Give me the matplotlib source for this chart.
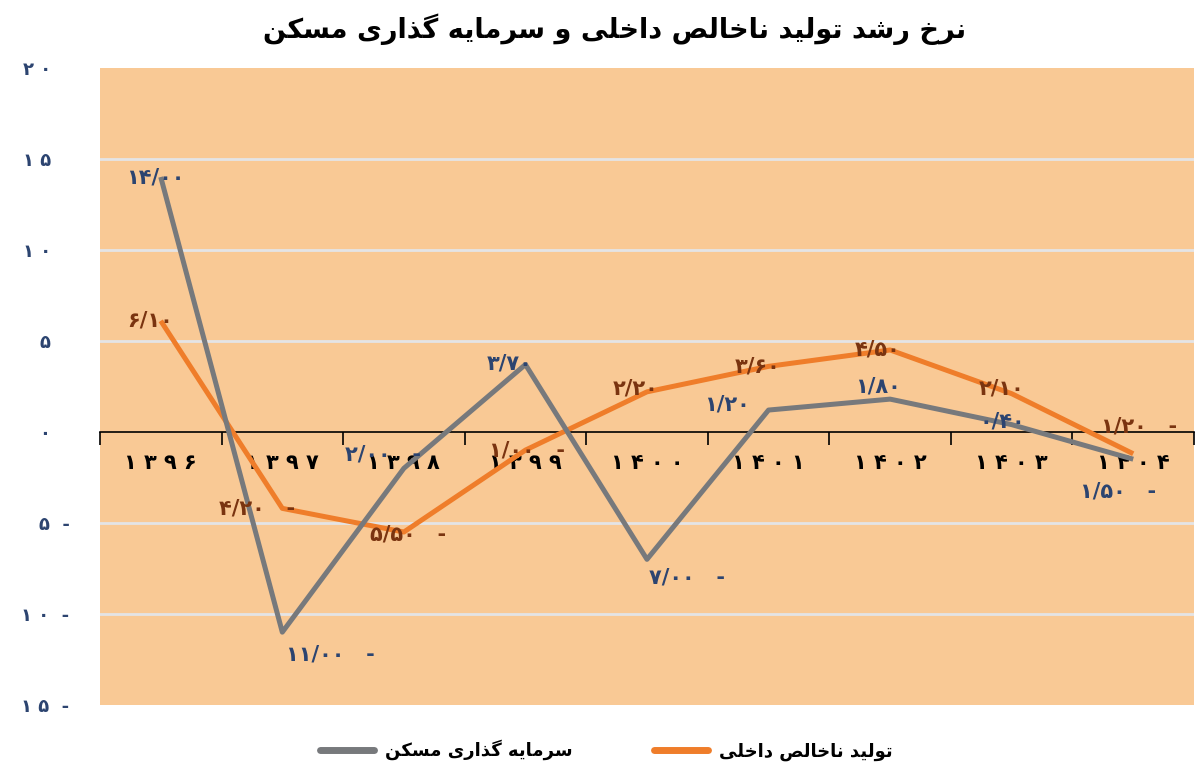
import matplotlib
matplotlib.use("Agg")
import matplotlib.pyplot as plt
from matplotlib.ticker import FixedLocator

# data
years = ["۱۳۹۶", "۱۳۹۷", "۱۳۹۸", "۱۳۹۹", "۱۴۰۰", "۱۴۰۱", "۱۴۰۲", "۱۴۰۳", "۱۴۰۴"]
housing = [14.00, -11.00, -2.00, 3.70, -7.00, 1.20, 1.80, 0.40, -1.50]
gdp = [6.10, -4.20, -5.50, -1.00, 2.20, 3.60, 4.50, 2.10, -1.20]
yticks = [-15, -10, -5, 0, 5, 10, 15, 20]

title = "نرخ رشد تولید ناخالص داخلی و سرمایه گذاری مسکن"
housing_name = "سرمایه گذاری مسکن"
gdp_name = "تولید ناخالص داخلی"

# label offsets in pixels (dx, dy), purely for placement
housing_off = [(-5, 0), (48, -22), (-21, 14), (-16, 1), (40, -18), (-42, 6), (-12, 13), (-9, 3), (-15, -32)]
gdp_off = [(-11, 0), (-25, 0), (4, -2), (2, 0), (-11, 3), (-11, 0), (-13, 0), (-10, 5), (6, 27)]

# minimal arabic/persian shaping (matplotlib has no shaper)
# isolated, final, initial, medial ; None initial -> right-joining only
FORMS = {
    "ا": ("\uFE8D", "\uFE8E", None, None),
    "ت": ("\uFE95", "\uFE96", "\uFE97", "\uFE98"),
    "خ": ("\uFEA5", "\uFEA6", "\uFEA7", "\uFEA8"),
    "د": ("\uFEA9", "\uFEAA", None, None),
    "ذ": ("\uFEAB", "\uFEAC", None, None),
    "ر": ("\uFEAD", "\uFEAE", None, None),
    "س": ("\uFEB1", "\uFEB2", "\uFEB3", "\uFEB4"),
    "ش": ("\uFEB5", "\uFEB6", "\uFEB7", "\uFEB8"),
    "ص": ("\uFEB9", "\uFEBA", "\uFEBB", "\uFEBC"),
    "ل": ("\uFEDD", "\uFEDE", "\uFEDF", "\uFEE0"),
    "م": ("\uFEE1", "\uFEE2", "\uFEE3", "\uFEE4"),
    "ن": ("\uFEE5", "\uFEE6", "\uFEE7", "\uFEE8"),
    "ه": ("\uFEE9", "\uFEEA", "\uFEEB", "\uFEEC"),
    "و": ("\uFEED", "\uFEEE", None, None),
    "ی": ("\uFBFC", "\uFBFD", "\uFBFE", "\uFBFF"),
    "ک": ("\uFB8E", "\uFB8F", "\uFB90", "\uFB91"),
    "گ": ("\uFB92", "\uFB93", "\uFB94", "\uFB95"),
}


def dual(ch):
    return ch in FORMS and FORMS[ch][2] is not None


def shape(text):
    out = []
    for i, ch in enumerate(text):
        if ch not in FORMS:
            out.append(ch)
            continue
        prev = text[i - 1] if i > 0 else ""
        nxt = text[i + 1] if i + 1 < len(text) else ""
        join_prev = dual(prev)
        join_next = dual(ch) and nxt in FORMS
        iso, fin, ini, med = FORMS[ch]
        if join_prev and join_next:
            out.append(med)
        elif join_prev:
            out.append(fin)
        elif join_next:
            out.append(ini)
        else:
            out.append(iso)
    return "".join(reversed(out))


FA_DIGITS = str.maketrans("0123456789", "۰۱۲۳۴۵۶۷۸۹")


def fa_value(v):
    s = f"{abs(v):.2f}".replace(".", "/").translate(FA_DIGITS)
    return s + "   -" if v < 0 else s


def fa_tick(v):
    s = " ".join(str(abs(v)).translate(FA_DIGITS))
    return s + "  -" if v < 0 else s + "   "


FONT = ["DejaVu Sans"]
plt.rcParams["font.family"] = FONT

grey = "#77797c"
orange = "#ef7d2a"
bg = "#f9c995"
navy = "#2c4470"
brown = "#7a3410"

fig = plt.figure(figsize=(12, 7.79), dpi=100)
ax = fig.add_axes([0.0833, 0.095, 0.9117, 0.818])
ax.set_facecolor(bg)

x = list(range(len(years)))
ax.plot(x, gdp, color=orange, lw=3.6, solid_capstyle="butt", label=shape(gdp_name), zorder=3)
ax.plot(x, housing, color=grey, lw=3.6, solid_capstyle="butt", label=shape(housing_name), zorder=4)

ax.set_xlim(-0.5, len(years) - 0.5)
ax.set_ylim(-15, 20)
ax.set_yticks(yticks)
ax.set_yticklabels([fa_tick(v) for v in yticks], fontsize=13, fontweight="bold", color=navy)
ax.tick_params(axis="y", length=0, pad=22)
for v in yticks:
    if v not in (0, 20, -15):
        ax.axhline(v, color="#e4e4e6", lw=2, zorder=1)

for side in ("top", "right", "left"):
    ax.spines[side].set_visible(False)
ax.spines["bottom"].set_position(("data", 0))
ax.spines["bottom"].set_color("black")
ax.spines["bottom"].set_linewidth(1.2)
ax.spines["bottom"].set_zorder(2)

ax.set_xticks(x)
ax.set_xticklabels([" ".join(y) for y in years], fontsize=15, fontweight="bold", color="black")
ax.xaxis.set_minor_locator(FixedLocator([i - 0.5 for i in range(len(years) + 1)]))
ax.tick_params(axis="x", which="major", length=0, pad=15)
ax.tick_params(axis="x", which="minor", length=9, width=1.2, color="black", direction="out")

px = 0.72  # points per pixel at dpi 100
for i, v in enumerate(housing):
    dx, dy = housing_off[i]
    ax.annotate(fa_value(v), (i, v), xytext=(dx * px, dy * px), textcoords="offset points",
                ha="center", va="center", fontsize=15, fontweight="bold", color=navy, zorder=5)
for i, v in enumerate(gdp):
    dx, dy = gdp_off[i]
    ax.annotate(fa_value(v), (i, v), xytext=(dx * px, dy * px), textcoords="offset points",
                ha="center", va="center", fontsize=15, fontweight="bold", color=brown, zorder=5)

fig.text(0.512, 0.963, shape(title), ha="center", va="center", fontsize=19.5, fontweight="bold")

handles, labels = ax.get_legend_handles_labels()
leg = fig.legend(handles[::-1], labels[::-1], loc="center", bbox_to_anchor=(0.505, 0.037), ncol=2,
                 frameon=False, handlelength=3.0, columnspacing=4.5, handletextpad=0.6,
                 prop={"weight": "bold", "size": 13})
for line in leg.get_lines():
    line.set_linewidth(5)
    line.set_solid_capstyle("round")

fig.savefig("out.png", dpi=100)
